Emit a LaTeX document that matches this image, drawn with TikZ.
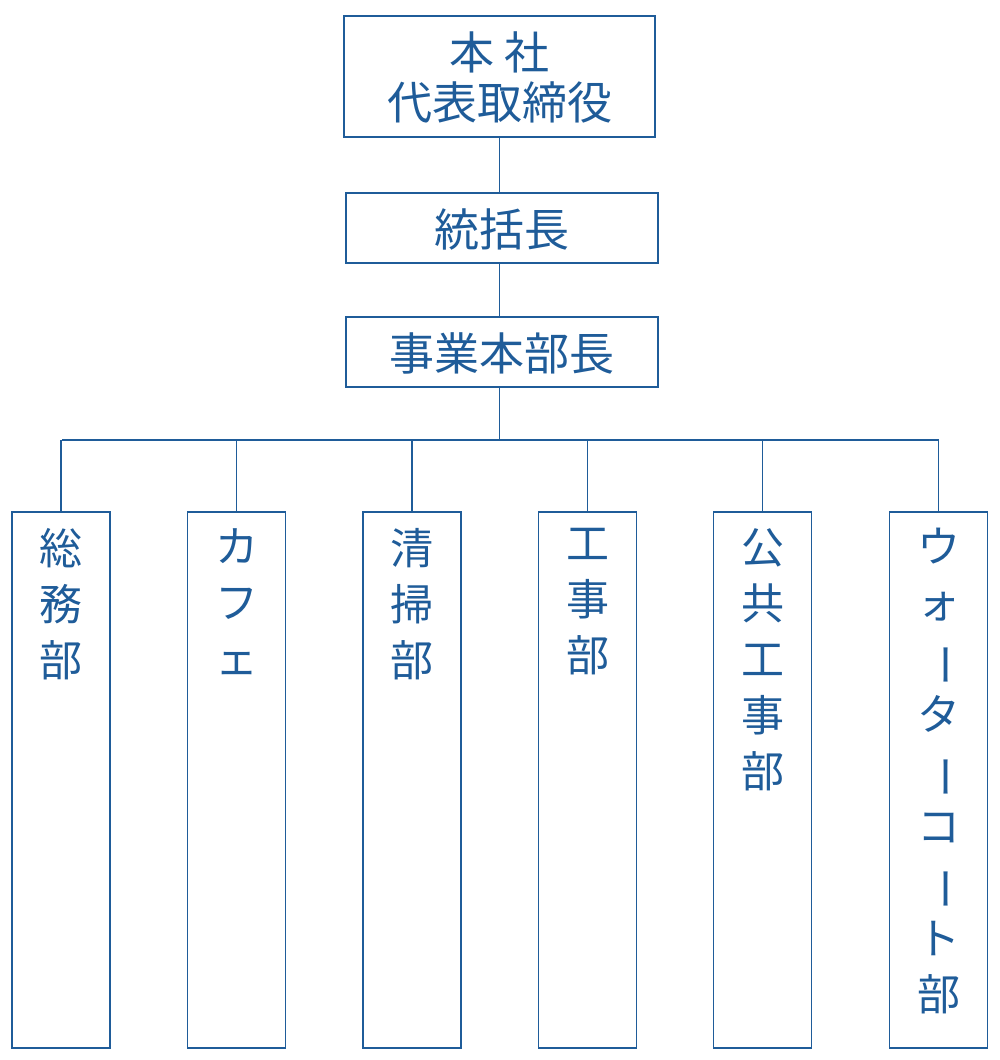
\documentclass[tikz,border=0pt]{standalone}
\usepackage{fontspec}
\newfontfamily\cjk{Noto Sans CJK JP}
\definecolor{bl}{HTML}{1F5C99}
\newcommand{\vbar}{\makebox[1em]{\rotatebox[origin=c]{-90}{ー}}}
\begin{document}
\begin{tikzpicture}[x=1pt,y=-1pt,
  box/.style={draw=bl,line width=1.6pt,inner sep=0pt},
  ln/.style={draw=bl,line width=1.6pt},
  txt/.style={text=bl,font=\cjk\fontsize{45}{50}\selectfont,align=center,inner sep=0pt},
  vt/.style={text=bl,font=\cjk\fontsize{43}{56}\selectfont,align=center,inner sep=0pt,anchor=north}]
\useasboundingbox (0,0) rectangle (1000,1060);
\node[box,minimum width=311pt,minimum height=121pt] (top) at (499.5,76.5) {};
\node[txt] at (499.5,77) {本 社\\代表取締役};
\node[box,minimum width=312pt,minimum height=70pt] (t) at (502,228) {};
\node[txt] at (502,229) {統括長};
\node[box,minimum width=312pt,minimum height=70pt] (j) at (502,352) {};
\node[txt] at (502,353) {事業本部長};
\draw[ln] (499.5,137) -- (499.5,193);
\draw[ln] (499.5,263) -- (499.5,317);
\draw[ln] (499.5,387) -- (499.5,440);
\coordinate (bl) at (62,440); \coordinate (br) at (939,440);
\draw[ln] (bl) -- (br);
\foreach \cx/\nm/\t in {61/a/{総\\務\\部},236.5/b/{カ\\フ\\ェ},412/c/{清\\掃\\部},587.5/d/{工\\事\\部},762.5/e/{公\\共\\工\\事\\部},938.5/f/{ウ\\ォ\\\vbar\\タ\\\vbar\\コ\\\vbar\\ト\\部}}{
  \node[box,minimum width=98pt,minimum height=536pt,anchor=north] (\nm) at (\cx,511) {};
  \draw[ln] (\cx,440) -- (\nm.north);
  \node[vt] at (\cx,528) {\t};
}
\end{tikzpicture}
\end{document}
